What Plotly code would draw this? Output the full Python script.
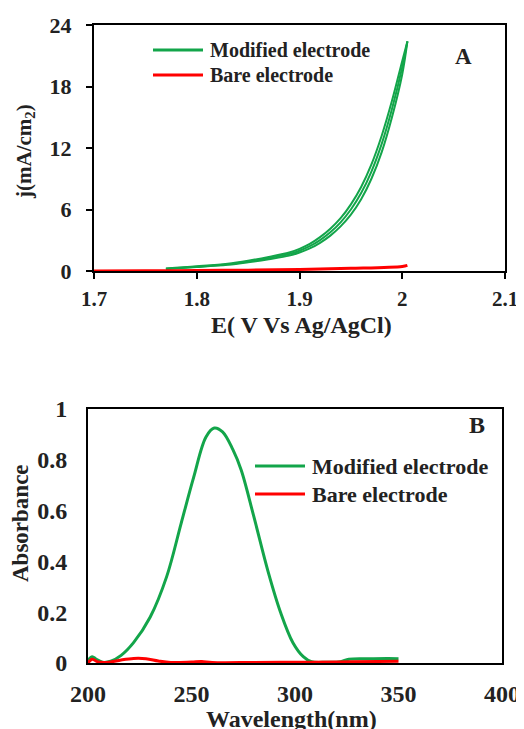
import plotly.graph_objects as go

# ---------- Panel A data (LSV / CV) ----------
E_mod = [1.77, 1.80, 1.83, 1.85, 1.87, 1.89, 1.90, 1.91, 1.92, 1.93, 1.94, 1.95,
         1.96, 1.97, 1.98, 1.99, 2.00, 2.005]
j_mod_1 = [0.20, 0.38, 0.60, 0.85, 1.15, 1.50, 1.80, 2.20, 2.75, 3.45, 4.35, 5.50,
           7.00, 9.00, 11.60, 15.00, 19.20, 22.40]
j_mod_2 = [0.22, 0.42, 0.66, 0.93, 1.26, 1.65, 1.98, 2.42, 3.02, 3.78, 4.75, 6.00,
           7.60, 9.70, 12.40, 15.80, 19.90, 22.40]
j_mod_3 = [0.24, 0.46, 0.72, 1.01, 1.37, 1.80, 2.16, 2.64, 3.30, 4.12, 5.15, 6.50,
           8.20, 10.40, 13.20, 16.60, 20.50, 22.40]
E_bare = [1.70, 1.75, 1.80, 1.85, 1.90, 1.95, 2.00, 2.005]
j_bare = [0.00, 0.02, 0.05, 0.08, 0.15, 0.26, 0.45, 0.55]
E_ticks = [1.7, 1.8, 1.9, 2.0, 2.1]
E_ticklabels = ["1.7", "1.8", "1.9", "2", "2.1"]
j_ticks = [0, 6, 12, 18, 24]

# ---------- Panel B data (UV-Vis) ----------
wl_mod = [200, 202, 204, 207, 211, 216, 222, 230, 238, 245, 251, 257, 261, 265, 270,
          274, 280, 287, 293, 299, 304, 308, 315, 322, 326, 335, 345, 350]
abs_mod = [0.01, 0.025, 0.015, 0.003, 0.007, 0.03, 0.08, 0.18, 0.34, 0.55, 0.73, 0.89,
           0.925, 0.91, 0.84, 0.76, 0.58, 0.36, 0.20, 0.08, 0.025, 0.005, 0.003, 0.005,
           0.015, 0.017, 0.018, 0.017]
wl_bare = [200, 202, 205, 210, 216, 222, 228, 234, 240, 250, 255, 260, 280, 300, 320, 340, 350]
abs_bare = [0.0, 0.015, 0.004, 0.003, 0.012, 0.018, 0.017, 0.008, 0.002, 0.004, 0.006,
            0.002, 0.002, 0.003, 0.004, 0.006, 0.007]
wl_ticks = [200, 250, 300, 350, 400]
abs_ticks = [0, 0.2, 0.4, 0.6, 0.8, 1]
abs_ticklabels = ["0", "0.2", "0.4", "0.6", "0.8", "1"]

series_names = ["Modified electrode", "Bare electrode"]

GREEN = "#13a54a"
RED = "#ff0000"
FONT = "Liberation Serif"
TXT = "#222222"

fig = go.Figure()

# Panel A traces
for i, jj in enumerate([j_mod_1, j_mod_2, j_mod_3]):
    fig.add_trace(go.Scatter(x=E_mod, y=jj, mode="lines", line=dict(color=GREEN, width=2, shape="spline"),
                             name=series_names[0], showlegend=False, xaxis="x", yaxis="y"))
fig.add_trace(go.Scatter(x=E_bare, y=j_bare, mode="lines", line=dict(color=RED, width=3, shape="spline"),
                         name=series_names[1], showlegend=False, xaxis="x", yaxis="y"))

# Panel B traces
fig.add_trace(go.Scatter(x=wl_mod, y=abs_mod, mode="lines", line=dict(color=GREEN, width=3, shape="spline"),
                         name=series_names[0], showlegend=False, xaxis="x2", yaxis="y2"))
fig.add_trace(go.Scatter(x=wl_bare, y=abs_bare, mode="lines", line=dict(color=RED, width=3, shape="spline"),
                         name=series_names[1], showlegend=False, xaxis="x2", yaxis="y2"))

# The page body has an 8px margin, so the figure starts at (8, 8) in the window.
OFF = 8
W, H = 524 - OFF, 729 - OFF
def px(x):
    return (x - OFF) / W
def py(y):
    return 1 - (y - OFF) / H

def axis_style(size):
    return dict(showline=True, linecolor="black", linewidth=2, mirror=True, showgrid=False,
                zeroline=False, automargin=False,
                tickfont=dict(family=FONT, size=size, color=TXT, weight="bold"))

fig.update_layout(
    width=W, height=H,
    margin=dict(l=0, r=0, t=0, b=0),
    paper_bgcolor="white", plot_bgcolor="white",
    font=dict(family=FONT, color=TXT),
    xaxis=dict(domain=[px(94), px(505)], range=[1.7, 2.1], tickvals=E_ticks, ticktext=E_ticklabels,
               ticks="outside", ticklen=6, tickwidth=2, tickcolor="black", anchor="y",
               ticklabelstandoff=2, **axis_style(21)),
    yaxis=dict(domain=[py(271), py(25)], range=[0, 24], tickvals=j_ticks, ticks="outside",
               ticklen=6, tickwidth=2, tickcolor="black", anchor="x", ticklabelstandoff=10,
               **axis_style(22)),
    xaxis2=dict(domain=[px(88), px(502)], range=[200, 400], tickvals=wl_ticks, ticks="",
                anchor="y2", ticklabelstandoff=8, **axis_style(24)),
    yaxis2=dict(domain=[py(663), py(409)], range=[0, 1], tickvals=abs_ticks, ticktext=abs_ticklabels,
                ticks="", anchor="x2", ticklabelstandoff=14, **axis_style(24)),
)

ann = []
def text(t, x, y, size, angle=0, xanchor="center"):
    ann.append(dict(text=t, x=px(x), y=py(y), xref="paper", yref="paper", showarrow=False,
                    xanchor=xanchor, yanchor="middle", textangle=angle,
                    font=dict(family=FONT, size=size, color=TXT, weight="bold")))

# axis titles
text("E( V Vs Ag/AgCl)", 301, 325, 24)
text("j(mA/cm<sub>2</sub>)", 25, 152, 21, angle=-90)
text("Absorbance", 20, 523, 23, angle=-90)
text("Wavelength(nm)", 291, 719, 24)
# panel letters
text("A", 463, 57, 23)
text("B", 477, 425, 24)

# manual legends
shapes = []
def legend_item(x0, x1, y, color, label, size):
    shapes.append(dict(type="line", xref="paper", yref="paper", x0=px(x0), x1=px(x1), y0=py(y), y1=py(y),
                       line=dict(color=color, width=3)))
    text(label, x1 + 5, y, size, xanchor="left")

legend_item(153, 203, 50, GREEN, series_names[0], 20)
legend_item(153, 203, 75, RED, series_names[1], 20)
legend_item(255, 305, 466, GREEN, series_names[0], 22)
legend_item(255, 305, 494, RED, series_names[1], 22)

fig.update_layout(annotations=ann, shapes=shapes)

fig.write_html("out.html")
